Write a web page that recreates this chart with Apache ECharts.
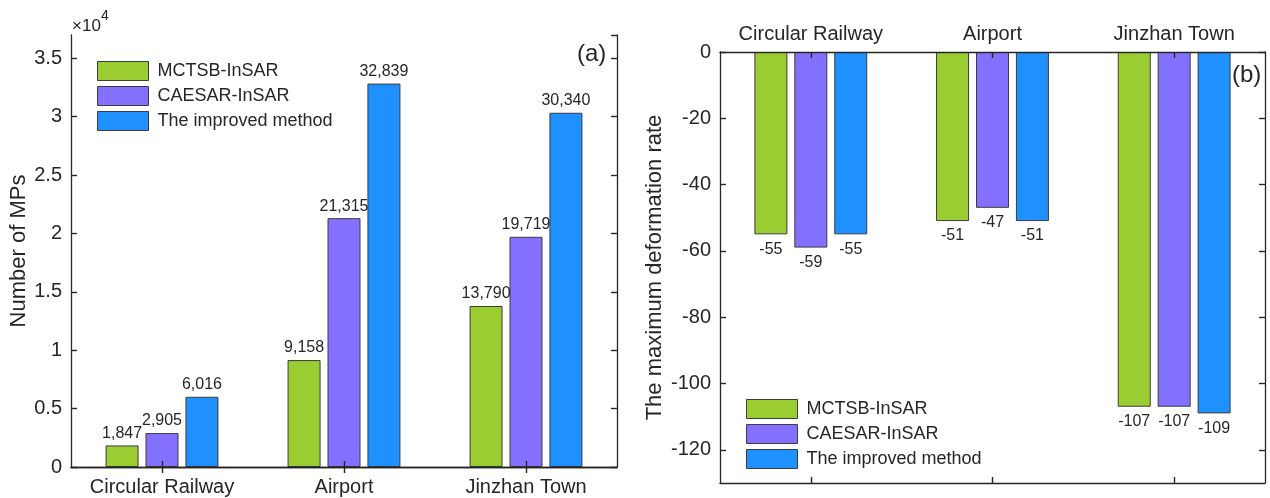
<!DOCTYPE html>
<html>
<head>
<meta charset="utf-8">
<script src="https://cdn.jsdelivr.net/npm/echarts@6/dist/echarts.min.js"></script>
<style>
  html, body { margin: 0; padding: 0; background: #fff; }
  #chart { width: 1270px; height: 498px; }
</style>
</head>
<body>
<div id="chart"></div>
<script>
// Sites and methods
const categories = ['Circular Railway', 'Airport', 'Jinzhan Town'];
const methods = ['MCTSB-InSAR', 'CAESAR-InSAR', 'The improved method'];

// (a) number of measurement points per site
const mctsbMPs = [1847, 9158, 13790];
const caesarMPs = [2905, 21315, 19719];
const improvedMPs = [6016, 32839, 30340];

// (b) maximum deformation rate per site
const mctsbRate = [-55, -51, -107];
const caesarRate = [-59, -47, -107];
const improvedRate = [-55, -51, -109];

// tick values of the deformation-rate axis
const rateTicks = [-120, -100, -80, -60, -40, -20, 0];

const colors = ['#9ACD32', '#8470FF', '#1E90FF'];
const ink = '#262626';
const font = 'Liberation Sans, Arial, Helvetica, sans-serif';

const chart = echarts.init(document.getElementById('chart'), null, { renderer: 'canvas' });

const lineStyle = { color: ink, width: 1.3 };
const tickIn = { show: true, inside: true, length: 6, lineStyle: { color: ink, width: 1.4 } };

function barSeries(name, data, idx, axisIdx, labelPos, fmt) {
  return {
    type: 'bar',
    name: name,
    data: data,
    xAxisIndex: axisIdx.x,
    yAxisIndex: axisIdx.y,
    barWidth: 33,
    barGap: '21%',
    z: 2,
    itemStyle: { color: colors[idx], borderColor: '#3c3c3c', borderWidth: 1 },
    label: {
      show: true,
      position: labelPos,
      distance: labelPos === 'top' ? 4 : 7,
      color: ink,
      fontSize: 16,
      fontFamily: font,
      formatter: fmt
    },
    emphasis: { disabled: true }
  };
}

const fmtCount = p => p.value.toLocaleString('en-US');
const fmtRate = p => String(p.value);

const legendBase = {
  orient: 'vertical',
  itemWidth: 51,
  itemHeight: 19,
  itemGap: 5,
  icon: 'rect',
  selectedMode: false,
  data: methods,
  itemStyle: { borderColor: '#3c3c3c', borderWidth: 1 },
  textStyle: { fontSize: 18, color: ink, fontFamily: font, padding: [0, 0, 0, 4] }
};

const catLabel = { color: ink, fontSize: 20, fontFamily: font, interval: 0 };

const option = {
  animation: false,
  textStyle: { fontFamily: font },
  grid: [
    { left: 71, right: 653, top: 35, bottom: 31, containLabel: false },
    { left: 720, right: 5, top: 52, bottom: 15, containLabel: false }
  ],
  legend: [
    Object.assign({ left: 92, top: 56 }, legendBase),
    Object.assign({ left: 741, top: 394 }, legendBase)
  ],
  xAxis: [
    {
      type: 'category', gridIndex: 0, position: 'bottom', data: categories, z: 5,
      axisLine: { lineStyle: lineStyle },
      axisTick: Object.assign({ alignWithLabel: true, interval: 0 }, tickIn),
      axisLabel: Object.assign({ margin: 10 }, catLabel)
    },
    {
      type: 'category', gridIndex: 0, position: 'top', data: categories, z: 5,
      axisLine: { lineStyle: lineStyle },
      axisTick: Object.assign({ alignWithLabel: true, interval: 0 }, tickIn),
      axisLabel: { show: false, interval: 0 }
    },
    {
      type: 'category', gridIndex: 1, position: 'top', data: categories, z: 5,
      axisLine: { onZero: false, lineStyle: lineStyle },
      axisTick: Object.assign({ alignWithLabel: true, interval: 0 }, tickIn),
      axisLabel: Object.assign({ margin: 8 }, catLabel)
    },
    {
      type: 'category', gridIndex: 1, position: 'bottom', data: categories, z: 5,
      axisLine: { onZero: false, lineStyle: lineStyle },
      axisTick: Object.assign({ alignWithLabel: true, interval: 0 }, tickIn),
      axisLabel: { show: false, interval: 0 }
    }
  ],
  yAxis: [
    {
      type: 'value', gridIndex: 0, position: 'left', min: 0, max: 37000, interval: 5000, z: 5,
      name: 'Number of MPs', nameLocation: 'middle', nameGap: 40,
      nameTextStyle: { color: ink, fontSize: 22, fontFamily: font },
      axisLine: { show: true, lineStyle: lineStyle },
      axisTick: tickIn,
      splitLine: { show: false },
      axisLabel: { color: ink, fontSize: 20, margin: 9, fontFamily: font, showMaxLabel: false,
        formatter: v => String(v / 10000) }
    },
    {
      type: 'value', gridIndex: 0, position: 'right', min: 0, max: 37000, interval: 5000, z: 5,
      axisLine: { show: true, lineStyle: lineStyle },
      axisTick: tickIn,
      splitLine: { show: false },
      axisLabel: { show: false }
    },
    {
      type: 'value', gridIndex: 1, position: 'left', min: -130, max: 0, z: 5,
      name: 'The maximum deformation rate', nameLocation: 'middle', nameGap: 54,
      nameTextStyle: { color: ink, fontSize: 22, fontFamily: font },
      axisLine: { show: true, onZero: false, lineStyle: lineStyle },
      axisTick: Object.assign({ customValues: rateTicks }, tickIn),
      splitLine: { show: false },
      axisLabel: { color: ink, fontSize: 20, margin: 9, fontFamily: font, customValues: rateTicks }
    },
    {
      type: 'value', gridIndex: 1, position: 'right', min: -130, max: 0, z: 5,
      axisLine: { show: true, onZero: false, lineStyle: lineStyle },
      axisTick: Object.assign({ customValues: rateTicks }, tickIn),
      splitLine: { show: false },
      axisLabel: { show: false }
    }
  ],
  graphic: [
    { type: 'text', left: 72, top: 18, style: { text: '\u00d710', fontSize: 17, fill: ink, fontFamily: font } },
    { type: 'text', left: 101, top: 9, style: { text: '4', fontSize: 14, fill: ink, fontFamily: font } },
    { type: 'text', left: 577, top: 42, style: { text: '(a)', fontSize: 24, fill: ink, fontFamily: font } },
    { type: 'text', left: 1232, top: 63, style: { text: '(b)', fontSize: 24, fill: ink, fontFamily: font } }
  ],
  series: [
    barSeries(methods[0], mctsbMPs, 0, { x: 0, y: 0 }, 'top', fmtCount),
    barSeries(methods[1], caesarMPs, 1, { x: 0, y: 0 }, 'top', fmtCount),
    barSeries(methods[2], improvedMPs, 2, { x: 0, y: 0 }, 'top', fmtCount),
    barSeries(methods[0], mctsbRate, 0, { x: 2, y: 2 }, 'bottom', fmtRate),
    barSeries(methods[1], caesarRate, 1, { x: 2, y: 2 }, 'bottom', fmtRate),
    barSeries(methods[2], improvedRate, 2, { x: 2, y: 2 }, 'bottom', fmtRate)
  ]
};

chart.setOption(option);
</script>
</body>
</html>
